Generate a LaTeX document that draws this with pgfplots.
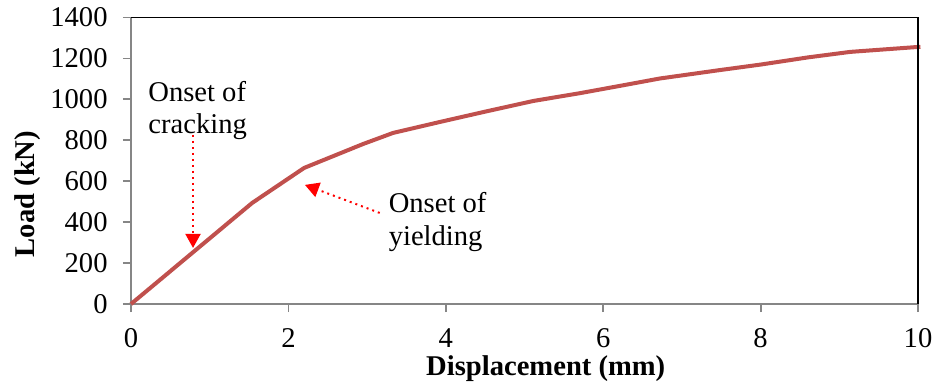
\documentclass[border=0pt]{standalone}
\usepackage{fontspec}
\setmainfont{Liberation Serif}
\usepackage{pgfplots}
\pgfplotsset{compat=1.18}
\usetikzlibrary{arrows.meta}

\definecolor{curvered}{RGB}{192,80,77}
\definecolor{axisgray}{RGB}{134,134,134}

\begin{document}
\fontsize{14.3}{17.2}\selectfont
\begin{tikzpicture}
\begin{axis}[
    scale only axis,
    width=393.5pt, height=143.25pt,
    at={(0,0)}, anchor=south west,
    xmin=0, xmax=10, ymin=0, ymax=1400,
    xtick={0,2,...,10}, ytick={0,200,...,1400},
    axis x line*=bottom, axis y line*=left,
    axis line style={axisgray, line width=0.9pt},
    tick style={axisgray, line width=0.9pt},
    tick align=outside, major tick length=4pt,
    /pgf/number format/assume math mode=true,
    /pgf/number format/1000 sep={},
    xticklabel style={inner sep=0pt, yshift=-8pt},
    yticklabel style={inner sep=0pt, xshift=-7.5pt},
    xlabel={\textbf{Displacement (mm)}},
    ylabel={\textbf{Load (kN)}},
    xlabel style={at={(axis description cs:0.527,-0.248)}, anchor=base},
    ylabel style={at={(axis description cs:-0.122,0.384)}, anchor=base},
    clip=false,
]
\addplot[curvered, line width=2pt] coordinates {
    (0,0) (1.54,494) (2.20,665) (2.95,782) (3.33,836) (3.93,890)
    (4.50,940) (5.11,992) (5.70,1030) (6.20,1065) (6.72,1102)
    (7.48,1143) (8.00,1170) (8.60,1205) (9.14,1232) (10.03,1257)
};
\addplot[red, line width=1pt, dotted, -{Triangle[length=7pt,width=7.5pt]}]
    coordinates {(0.788,826) (0.788,274)};
\addplot[red, line width=1pt, dotted, -{Triangle[length=7pt,width=7.5pt]}]
    coordinates {(3.16,445) (2.21,582)};
\node[anchor=base west, inner sep=0pt] at (axis cs:0.216,992) {Onset of};
\node[anchor=base west, inner sep=0pt] at (axis cs:0.216,831) {cracking};
\node[anchor=base west, inner sep=0pt] at (axis cs:3.27,445) {Onset of};
\node[anchor=base west, inner sep=0pt] at (axis cs:3.27,288) {yielding};
\draw[black, line width=0.9pt] (rel axis cs:0,1) -- (rel axis cs:1,1) -- (rel axis cs:1,0);
\end{axis}
\path[use as bounding box] (-65.5pt,-38.5pt) rectangle (402pt,152pt);
\end{tikzpicture}
\end{document}
